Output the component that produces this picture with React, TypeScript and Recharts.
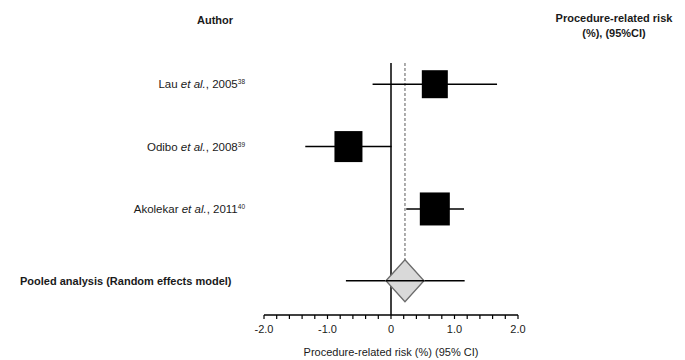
import {
  Customized,
  ErrorBar,
  ReferenceLine,
  Scatter,
  ScatterChart,
  XAxis,
  YAxis,
} from 'recharts'

const authors = ['Lau', 'Odibo', 'Akolekar']
const years = ['2005', '2008', '2011']
const refs = ['38', '39', '40']
const estimates = [0.69, -0.67, 0.69]
const lower = [-0.29, -1.35, 0.24]
const upper = [1.67, 0.01, 1.15]
const studyRows = [0, 1, 2]

const pooledLabel = 'Pooled analysis (Random effects model)'
const pooledEst = 0.22
const pooledLow = -0.71
const pooledHigh = 1.16
const pooledRow = 3.15

const xTicks = [
  -2, -1.8, -1.6, -1.4, -1.2, -1, -0.8, -0.6, -0.4, -0.2, 0, 0.2, 0.4, 0.6, 0.8, 1, 1.2, 1.4,
  1.6, 1.8, 2,
]
const xLabels: Record<string, string> = { '-2': '-2.0', '-1': '-1.0', '0': '0', '1': '1.0', '2': '2.0' }

const FONT = '"Liberation Sans", Arial, sans-serif'
const INK = '#1a1a1a'
const Y_DOMAIN: [number, number] = [-0.34, 3.7]
const BOX = [
  { w: 26, h: 28 },
  { w: 28, h: 31 },
  { w: 30, h: 33 },
]

const fmt = (v: number) => v.toFixed(2)

const studies = authors.map((a, i) => ({
  author: a,
  year: years[i],
  ref: refs[i],
  est: estimates[i],
  row: studyRows[i],
  err: [estimates[i] - lower[i], upper[i] - estimates[i]],
  idx: i,
  text: `${fmt(estimates[i])} (${fmt(lower[i])} to ${fmt(upper[i])})`,
}))

const pooled = [
  {
    est: pooledEst,
    row: pooledRow,
    err: [pooledEst - pooledLow, pooledHigh - pooledEst],
    text: `${fmt(pooledEst)} (${fmt(pooledLow)} to ${fmt(pooledHigh)})`,
  },
]

function Square(props: any) {
  const { cx, cy, payload } = props
  const b = BOX[payload.idx]
  return <rect x={cx - b.w / 2} y={cy - b.h / 2} width={b.w} height={b.h} fill="#000" />
}

function Diamond(props: any) {
  const { cx, cy } = props
  const hw = 19
  const hh = 21
  return (
    <g>
      <polygon
        points={`${cx - hw},${cy} ${cx},${cy - hh} ${cx + hw},${cy} ${cx},${cy + hh}`}
        fill="#d9d9d9"
        stroke="#6b6b6b"
        strokeWidth={1.3}
      />
      <line x1={cx - hw} y1={cy} x2={cx + hw} y2={cy} stroke="#000" strokeWidth={1.5} />
    </g>
  )
}

function AuthorTick(props: any) {
  const { x, y, payload } = props
  const v = payload.value
  if (v === pooledRow) {
    return (
      <text x={20} y={y} dy={4} fontSize={11} fontWeight="bold" fill={INK} fontFamily={FONT}>
        {pooledLabel}
      </text>
    )
  }
  const s = studies.find((d) => d.row === v)
  if (!s) return null
  return (
    <text x={x} y={y} dy={4} textAnchor="end" fontSize={11.5} fill={INK} fontFamily={FONT}>
      {s.author} <tspan fontStyle="italic">et al.</tspan>, {s.year}
      <tspan fontSize={6.5} dy={-4}>
        {s.ref}
      </tspan>
    </text>
  )
}

function ValueTick(props: any) {
  const { x, y, payload } = props
  const v = payload.value
  const isPooled = v === pooledRow
  const t = isPooled ? pooled[0].text : studies.find((d) => d.row === v)?.text
  return (
    <text
      x={x}
      y={y}
      dy={4}
      textAnchor="middle"
      fontSize={11}
      fontWeight={isPooled ? 'bold' : 'normal'}
      fill={INK}
      fontFamily={FONT}
    >
      {t}
    </text>
  )
}

function XTick(props: any) {
  const { x, y, payload } = props
  const label = xLabels[String(Math.round(payload.value * 10) / 10)]
  if (label === undefined) return null
  return (
    <text x={x} y={y} dy={12} textAnchor="middle" fontSize={11} fill={INK} fontFamily={FONT}>
      {label}
    </text>
  )
}

function Headers() {
  return (
    <g fontFamily={FONT} fontSize={11} fontWeight="bold" fill={INK}>
      <text x={215} y={24} textAnchor="middle">
        Author
      </text>
      <text x={614} y={22} textAnchor="middle">
        Procedure-related risk
      </text>
      <text x={614} y={37} textAnchor="middle">
        (%), (95%CI)
      </text>
    </g>
  )
}

export default function App() {
  const rowTicks = [...studyRows, pooledRow]
  return (
    <div style={{ position: 'absolute', left: 0, top: 0, width: 685, height: 360, background: '#fff' }}>
      <ScatterChart width={685} height={360} margin={{ top: 63, right: 0, bottom: 0, left: 0 }}>
        <XAxis
          type="number"
          dataKey="est"
          domain={[-2, 2]}
          ticks={xTicks}
          interval={0}
          tick={<XTick />}
          tickSize={4}
          tickLine={{ stroke: '#000', strokeWidth: 1.2 }}
          axisLine={{ stroke: '#000', strokeWidth: 1.5 }}
          height={45}
          label={{
            value: 'Procedure-related risk (%) (95% CI)',
            position: 'insideBottom',
            offset: 4,
            fontSize: 11,
            fill: INK,
            fontFamily: FONT,
          }}
        />
        <YAxis
          yAxisId="left"
          type="number"
          dataKey="row"
          domain={Y_DOMAIN}
          reversed
          ticks={rowTicks}
          interval={0}
          width={264}
          tickSize={0}
          tickMargin={19}
          axisLine={false}
          tickLine={false}
          tick={<AuthorTick />}
        />
        <YAxis
          yAxisId="right"
          orientation="right"
          type="number"
          dataKey="row"
          domain={Y_DOMAIN}
          reversed
          ticks={rowTicks}
          interval={0}
          width={167}
          tickSize={0}
          tickMargin={96}
          axisLine={false}
          tickLine={false}
          tick={<ValueTick />}
        />
        <ReferenceLine yAxisId="left" x={0} stroke="#000" strokeWidth={1.5} />
        <ReferenceLine
          yAxisId="left"
          segment={[
            { x: pooledEst, y: Y_DOMAIN[0] },
            { x: pooledEst, y: pooledRow - 0.33 },
          ]}
          stroke="#777"
          strokeWidth={1.2}
          strokeDasharray="3 2"
        />
        <Scatter yAxisId="left" data={studies} shape={<Square />} isAnimationActive={false}>
          <ErrorBar dataKey="err" direction="x" width={0} stroke="#000" strokeWidth={1.5} />
        </Scatter>
        <Scatter yAxisId="left" data={pooled} shape={<Diamond />} isAnimationActive={false}>
          <ErrorBar dataKey="err" direction="x" width={0} stroke="#000" strokeWidth={1.5} />
        </Scatter>
        <Customized component={<Headers />} />
      </ScatterChart>
    </div>
  )
}
